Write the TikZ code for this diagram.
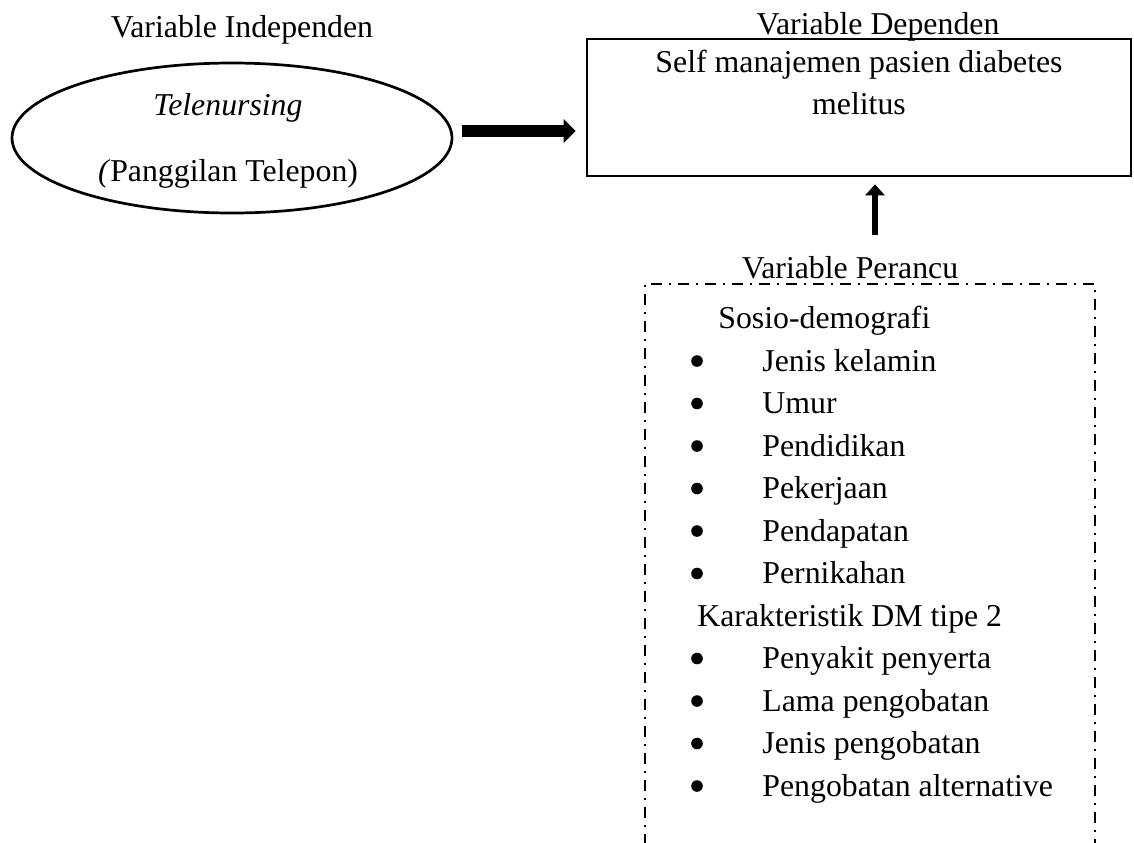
\documentclass[tikz,border=0pt]{standalone}
\usepackage{fontspec}
\setmainfont{Liberation Serif}
\usetikzlibrary{shapes.geometric,arrows.meta}
\begin{document}
\begin{tikzpicture}[x=0.5pt, y=-0.5pt, font=\fontsize{15.9}{19}\selectfont,
  lbl/.style = {anchor=base, inner sep=0pt},
  item/.style = {anchor=base west, inner sep=0pt},
  dot/.style = {circle, fill, minimum size=5.8pt, inner sep=0pt},
  oval/.style = {draw, ellipse, line width=1.35pt, minimum width=220pt, minimum height=75pt, inner sep=0pt},
  box/.style = {draw, rectangle, line width=1.35pt, minimum width=272pt, minimum height=68.5pt, inner sep=0pt},
  fatarrow/.style = {line width=6pt, -{Triangle[length=6pt, width=11.5pt]}},
  thinarrow/.style = {line width=3pt, -{Triangle[length=5.5pt, width=9.5pt]}},
  dashdot/.style = {line width=1pt, dash pattern=on 5.5pt off 3.5pt on 1pt off 3.5pt}]
  \useasboundingbox (0,0) rectangle (1134,842);
  \node[lbl] (1) at (242,37) {Variable Independen};
  \node[oval] (2) at (232,138) {};
  \node[lbl] (3) at (228,115) {\textit{Telenursing}};
  \node[lbl] (4) at (228,181) {\textit{(}Panggilan Telepon)};
  \node[lbl] (5) at (878,34) {Variable Dependen};
  \node[box] (6) at (859,107.5) {};
  \node[lbl] (7) at (859,72) {Self manajemen pasien diabetes};
  \node[lbl] (8) at (859,114) {melitus};
  \node[lbl] (9) at (850,278) {Variable Perancu};
  \coordinate (10) at (875,235);
  \coordinate (11) at ([yshift=3.5pt]2.east);
  % confounder box, open at the bottom
  \draw[dashdot] (645,845) -- (645,284) -- (1095,284) -- (1095,845);
  \node[item] (20) at (718,328) {Sosio-demografi};
  \node[dot] (21) at (697,361) {};
  \node[item] (31) at (762,371) {Jenis kelamin};
  \node[dot] (22) at (697,403.5) {};
  \node[item] (32) at (762,413.5) {Umur};
  \node[dot] (23) at (697,446) {};
  \node[item] (33) at (762,456) {Pendidikan};
  \node[dot] (24) at (697,488.5) {};
  \node[item] (34) at (762,498.5) {Pekerjaan};
  \node[dot] (25) at (697,531) {};
  \node[item] (35) at (762,541) {Pendapatan};
  \node[dot] (26) at (697,573.5) {};
  \node[item] (36) at (762,583.5) {Pernikahan};
  \node[item] (40) at (697,626) {Karakteristik DM tipe 2};
  \node[dot] (41) at (697,658.5) {};
  \node[item] (51) at (762,668.5) {Penyakit penyerta};
  \node[dot] (42) at (697,701) {};
  \node[item] (52) at (762,711) {Lama pengobatan};
  \node[dot] (43) at (697,743.5) {};
  \node[item] (53) at (762,753.5) {Jenis pengobatan};
  \node[dot] (44) at (697,786) {};
  \node[item] (54) at (762,796) {Pengobatan alternative};
  \draw[fatarrow, shorten <=4.5pt, shorten >=5pt] (11) -- (11 -| 6.west);
  \draw[thinarrow, shorten >=3.5pt] (10) -- (10 |- 6.south);
\end{tikzpicture}
\end{document}
